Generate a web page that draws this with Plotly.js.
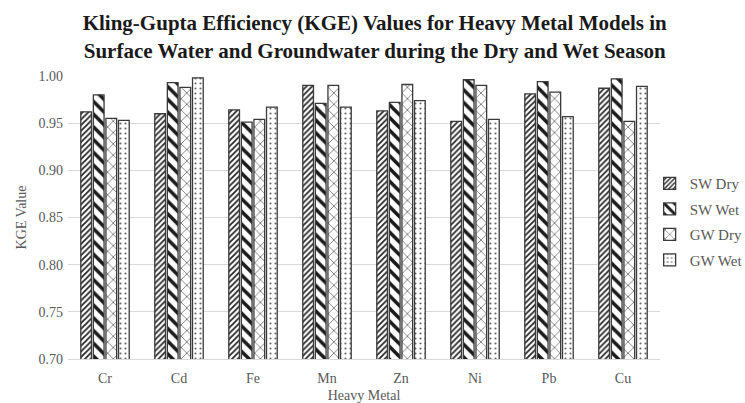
<!DOCTYPE html>
<html>
<head>
<meta charset="utf-8">
<script src="https://cdn.plot.ly/plotly-3.0.1.min.js"></script>
<style>html,body{margin:0;padding:0;background:#fff;}#chart{width:745px;height:403px;}</style>
</head>
<body>
<div id="chart"></div>
<script>
const metals = ["Cr", "Cd", "Fe", "Mn", "Zn", "Ni", "Pb", "Cu"];
const swDry = [0.962, 0.960, 0.964, 0.990, 0.963, 0.952, 0.981, 0.987];
const swWet = [0.980, 0.993, 0.951, 0.971, 0.972, 0.996, 0.994, 0.997];
const gwDry = [0.955, 0.988, 0.954, 0.990, 0.991, 0.990, 0.983, 0.952];
const gwWet = [0.953, 0.998, 0.967, 0.967, 0.974, 0.954, 0.957, 0.989];
const seriesNames = ["SW Dry", "SW Wet", "GW Dry", "GW Wet"];
const yTicks = [0.70, 0.75, 0.80, 0.85, 0.90, 0.95, 1.00];

const SERIF = "Liberation Serif";
const patterns = [
  {shape: "/", size: 4, solidity: 0.45, fgcolor: "#262626", bgcolor: "#ffffff"},
  {shape: "\\", size: 9, solidity: 0.4, fgcolor: "#1a1a1a", bgcolor: "#ffffff"},
  {shape: "x", size: 8, solidity: 0.15, fgcolor: "#404040", bgcolor: "#ffffff"},
  {shape: ".", size: 5, solidity: 0.15, fgcolor: "#666666", bgcolor: "#ffffff"}
];
const data = [swDry, swWet, gwDry, gwWet].map((vals, i) => ({
  type: "bar",
  name: seriesNames[i],
  legendgroup: "g" + i,
  x: metals,
  y: vals,
  marker: {
    color: "#ffffff",
    pattern: patterns[i],
    line: {color: "#3a3a3a", width: 1.3}
  }
}));

const layout = {
  width: 745, height: 403,
  margin: {l: 68, r: 85, t: 76, b: 44, autoexpand: false},
  paper_bgcolor: "#ffffff", plot_bgcolor: "#ffffff",
  font: {family: SERIF, color: "#595959", size: 13},
  title: {
    text: "<b>Kling-Gupta Efficiency (KGE) Values for Heavy Metal Models in<br>Surface Water and Groundwater during the Dry and Wet Season</b>",
    font: {family: SERIF, size: 21, color: "#1a1a1a"},
    x: 0.503, xanchor: "center", y: 0.925, yanchor: "middle"
  },
  barmode: "group",
  bargap: 0.32,
  bargroupgap: 0.15,
  xaxis: {
    showgrid: false,
    showline: true, linecolor: "#d9d9d9", linewidth: 1,
    ticks: "",
    ticklabelstandoff: 6,
    tickfont: {family: SERIF, size: 14, color: "#595959"},
    title: {text: "Heavy Metal", font: {family: SERIF, size: 14, color: "#595959"}, standoff: 8}
  },
  yaxis: {
    range: [0.70, 1.0],
    tickvals: yTicks,
    tickformat: ".2f",
    showgrid: true, gridcolor: "#d9d9d9", gridwidth: 1,
    zeroline: false, showline: false,
    ticks: "",
    ticklabelstandoff: 4,
    tickfont: {family: SERIF, size: 14, color: "#595959"},
    title: {text: "KGE Value", font: {family: SERIF, size: 14, color: "#595959"}, standoff: 8}
  },
  legend: {
    xref: "container", yref: "container",
    x: 0.872, xanchor: "left", y: 0.45, yanchor: "middle",
    font: {family: SERIF, size: 15, color: "#595959"},
    tracegroupgap: 3, itemwidth: 30
  },
  showlegend: true
};
Plotly.newPlot("chart", data, layout, {displayModeBar: false, staticPlot: true});
</script>
</body>
</html>
